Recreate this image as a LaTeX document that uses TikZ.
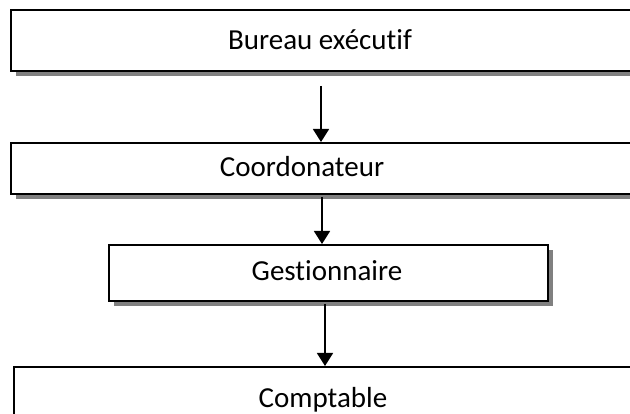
\documentclass[tikz,border=0pt]{standalone}
\usepackage{fontspec}
\setmainfont{Carlito}[Ligatures={NoCommon,NoRequired}]
\usetikzlibrary{arrows.meta, shadows}

\tikzset{
  boite/.style={draw, line width=1.6pt, fill=white, inner sep=0pt, anchor=north west,
    drop shadow={shadow xshift=5pt, shadow yshift=-5pt, fill=black!50, opacity=1}},
  fleche/.style={line width=1.6pt, -{Triangle[width=16pt,length=13pt]}},
  texte/.style={font=\fontsize{29}{34}\selectfont, anchor=base, inner sep=0pt}
}

\begin{document}
\begin{tikzpicture}[x=1pt,y=-1pt]
  \useasboundingbox (0,0) rectangle (630,414);
  \clip (0,0) rectangle (630,414);

  % Bureau exécutif
  \node[boite, minimum width=700pt, minimum height=60.5pt] (bureau) at (10,9.5) {};
  \node[texte] (tbureau) at (320,50) {Bureau exécutif};

  % Coordonateur
  \node[boite, minimum width=700pt, minimum height=51pt] (coord) at (10,142) {};
  \node[texte] (tcoord) at (302,177) {Coordonateur};

  % Gestionnaire
  \node[boite, minimum width=439pt, minimum height=56pt] (gest) at (108,244) {};
  \node[texte] (tgest) at (327,281) {Gestionnaire};

  % Comptable
  \node[boite, minimum width=700pt, minimum height=120pt] (compt) at (13,366) {};
  \node[texte] (tcompt) at (323,408) {Comptable};

  % Flèches
  \coordinate (d1) at (321,86);
  \coordinate (d2) at (322,197);
  \coordinate (d3) at (325,304);
  \draw[fleche] (d1) -- (d1 |- coord.north);
  \draw[fleche] (d2) -- (d2 |- gest.north);
  \draw[fleche] (d3) -- (d3 |- compt.north);

\end{tikzpicture}
\end{document}
